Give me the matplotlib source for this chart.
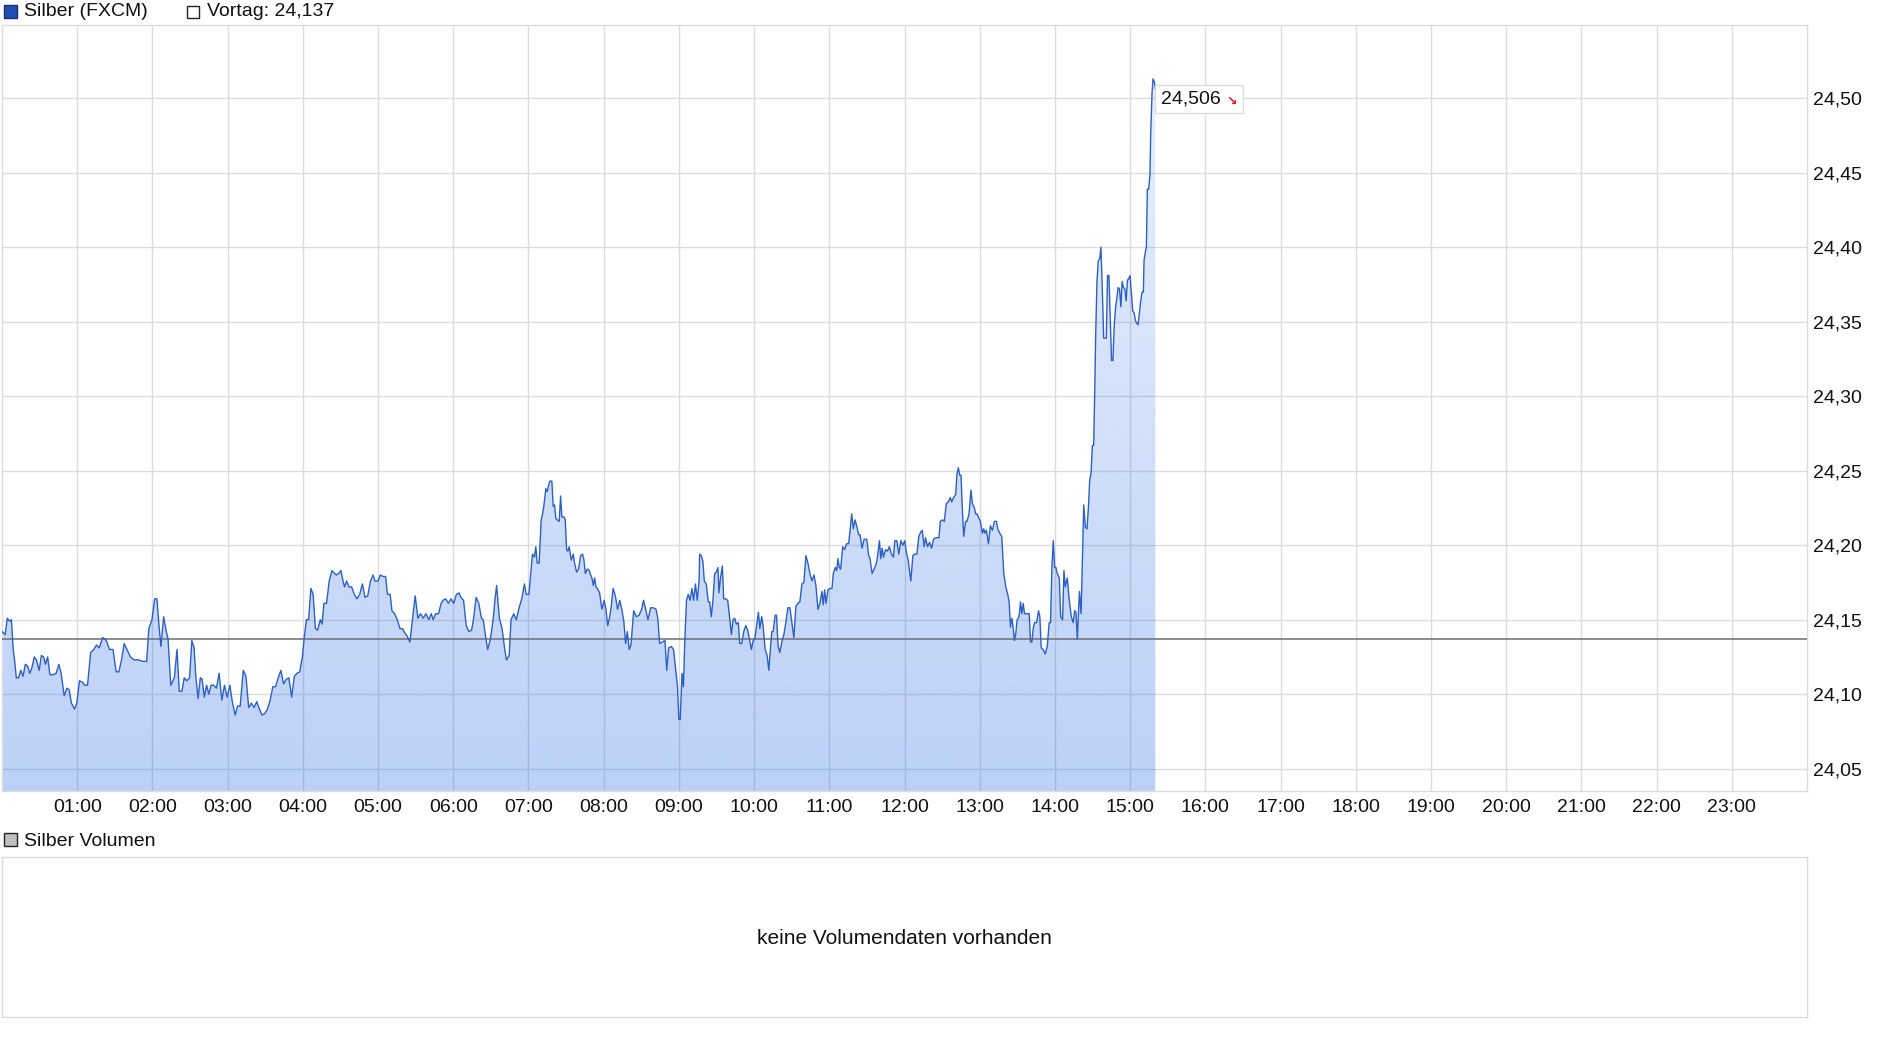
import numpy as np
import matplotlib
matplotlib.use("Agg")
import matplotlib.pyplot as plt
from matplotlib.patches import Rectangle
from matplotlib.ticker import FuncFormatter
from matplotlib.offsetbox import TextArea, HPacker, AnnotationBbox

plt.rcParams['font.family'] = ['Liberation Sans', 'DejaVu Sans']

# Uhrzeit in Stunden (Intraday) und Silberkurs
zeit = [
    0.000, 0.042, 0.071, 0.101, 0.125, 0.149, 0.167, 0.190, 0.220, 0.250, 0.280, 0.310, 0.339, 0.369, 0.399,
    0.429, 0.458, 0.494, 0.524, 0.554, 0.577, 0.607, 0.637, 0.673, 0.720, 0.756, 0.786, 0.827, 0.863, 0.893,
    0.923, 0.964, 0.994, 1.030, 1.071, 1.101, 1.137, 1.179, 1.220, 1.256, 1.292, 1.339, 1.387, 1.429, 1.476,
    1.518, 1.554, 1.589, 1.625, 1.661, 1.708, 1.756, 1.815, 1.875, 1.923, 1.952, 1.994, 2.030, 2.060, 2.089,
    2.113, 2.149, 2.185, 2.208, 2.244, 2.292, 2.327, 2.357, 2.393, 2.423, 2.458, 2.494, 2.524, 2.554, 2.577,
    2.607, 2.637, 2.661, 2.690, 2.720, 2.750, 2.780, 2.815, 2.851, 2.887, 2.923, 2.958, 2.994, 3.030, 3.065,
    3.101, 3.131, 3.167, 3.208, 3.244, 3.280, 3.315, 3.351, 3.387, 3.423, 3.458, 3.494, 3.530, 3.565, 3.601,
    3.637, 3.673, 3.708, 3.744, 3.780, 3.815, 3.851, 3.887, 3.923, 3.958, 3.994, 4.018, 4.048, 4.077, 4.107,
    4.137, 4.167, 4.196, 4.232, 4.256, 4.280, 4.315, 4.351, 4.387, 4.423, 4.446, 4.476, 4.506, 4.530, 4.554,
    4.583, 4.613, 4.649, 4.685, 4.720, 4.756, 4.792, 4.827, 4.863, 4.899, 4.935, 4.958, 5.000, 5.030, 5.065,
    5.101, 5.125, 5.161, 5.185, 5.220, 5.256, 5.292, 5.327, 5.357, 5.387, 5.423, 5.458, 5.494, 5.530, 5.565,
    5.601, 5.637, 5.673, 5.708, 5.732, 5.768, 5.804, 5.839, 5.863, 5.899, 5.935, 5.970, 6.006, 6.042, 6.077,
    6.101, 6.137, 6.173, 6.208, 6.244, 6.268, 6.304, 6.339, 6.375, 6.399, 6.435, 6.458, 6.494, 6.530, 6.554,
    6.577, 6.613, 6.649, 6.685, 6.708, 6.744, 6.768, 6.804, 6.839, 6.875, 6.911, 6.946, 6.970, 7.006,
    7.053, 7.080, 7.098, 7.116, 7.142, 7.169, 7.187, 7.204, 7.231, 7.249, 7.267, 7.284, 7.311, 7.329, 7.347,
    7.364, 7.382, 7.409, 7.427, 7.444, 7.471, 7.489, 7.507, 7.524, 7.542, 7.569, 7.596, 7.613, 7.640, 7.667,
    7.693, 7.720, 7.738, 7.756, 7.782, 7.809, 7.827, 7.844, 7.862, 7.880, 7.898, 7.916,
    7.946, 7.976, 8.006, 8.030, 8.054, 8.077, 8.101, 8.125, 8.155, 8.185, 8.214, 8.244, 8.268, 8.292, 8.315,
    8.339, 8.363, 8.399, 8.435, 8.470, 8.506, 8.530, 8.554, 8.589, 8.625, 8.661, 8.696, 8.720, 8.744, 8.780,
    8.815, 8.839, 8.863, 8.899, 8.929, 8.958, 8.982, 9.000, 9.018, 9.042, 9.060, 9.077, 9.101, 9.125, 9.149,
    9.173, 9.196, 9.220, 9.244, 9.268,
    9.276, 9.298, 9.320, 9.338, 9.364, 9.391, 9.409, 9.431, 9.453, 9.476, 9.498, 9.520, 9.533, 9.551, 9.578,
    9.596, 9.622, 9.649, 9.676, 9.698, 9.720, 9.742, 9.764, 9.791, 9.809, 9.836, 9.862, 9.889, 9.916, 9.942,
    9.964, 9.987, 10.009, 10.031, 10.058, 10.076, 10.102, 10.120, 10.147, 10.173, 10.196, 10.218, 10.236,
    10.253, 10.280, 10.298, 10.320, 10.342, 10.369, 10.396, 10.422, 10.449, 10.476, 10.502, 10.529, 10.556,
    10.582, 10.609, 10.636, 10.662, 10.689, 10.716, 10.742, 10.769, 10.796, 10.822, 10.849, 10.876, 10.902,
    10.920, 10.938, 10.956, 10.982, 11.009, 11.036, 11.053, 11.080, 11.098, 11.116, 11.133, 11.151, 11.178,
    11.204, 11.231, 11.258, 11.276, 11.298, 11.320, 11.342, 11.364, 11.391, 11.409, 11.436, 11.462, 11.498,
    11.524, 11.542, 11.569, 11.596, 11.622, 11.640, 11.667, 11.684, 11.702, 11.720, 11.747, 11.773, 11.800,
    11.827, 11.853, 11.871, 11.898, 11.924, 11.951, 11.978, 12.004, 12.022, 12.049, 12.084, 12.111, 12.138,
    12.164, 12.191, 12.218, 12.236, 12.262, 12.280, 12.307, 12.333, 12.360, 12.387, 12.413, 12.440, 12.458,
    12.476, 12.502, 12.529, 12.556, 12.582, 12.609, 12.627, 12.653, 12.680, 12.698, 12.716, 12.733, 12.751,
    12.769, 12.787, 12.813, 12.831, 12.858, 12.884, 12.902, 12.929, 12.947, 12.964, 12.991, 13.009, 13.036,
    13.053, 13.071, 13.089, 13.116, 13.142, 13.169, 13.196, 13.222, 13.240, 13.267, 13.293, 13.320, 13.347,
    13.373, 13.391, 13.409, 13.427, 13.444, 13.462, 13.480, 13.498, 13.524, 13.542, 13.560, 13.578, 13.596,
    13.622, 13.658, 13.676, 13.693, 13.711, 13.729, 13.756, 13.782, 13.800, 13.818, 13.844, 13.871, 13.898,
    13.924, 13.942, 13.960, 13.978, 13.996, 14.013, 14.031, 14.058, 14.076, 14.102, 14.120, 14.138, 14.164,
    14.191, 14.218, 14.244, 14.262, 14.280, 14.298,
    14.326, 14.348, 14.366, 14.383, 14.405, 14.427, 14.445, 14.463, 14.480, 14.498, 14.515, 14.529, 14.542,
    14.559, 14.577, 14.595, 14.612, 14.630, 14.648, 14.665, 14.683, 14.700, 14.718, 14.736, 14.753, 14.771,
    14.789, 14.806, 14.824, 14.841, 14.859, 14.877, 14.894, 14.912, 14.930, 14.947, 14.965, 14.982, 15.000,
    15.018, 15.035, 15.053, 15.070, 15.088, 15.106, 15.123, 15.141, 15.159, 15.176, 15.185, 15.203, 15.216,
    15.229, 15.247, 15.264, 15.273, 15.291, 15.304, 15.322, 15.335,
]

kurs = [
    24.142, 24.140, 24.151, 24.149, 24.150, 24.130, 24.123, 24.111, 24.111, 24.116, 24.112, 24.120, 24.119, 24.114, 24.118,
    24.125, 24.123, 24.116, 24.126, 24.125, 24.120, 24.125, 24.113, 24.113, 24.114, 24.120, 24.114, 24.099, 24.104, 24.103,
    24.094, 24.090, 24.094, 24.109, 24.108, 24.106, 24.106, 24.128, 24.130, 24.133, 24.131, 24.138, 24.136, 24.130, 24.130,
    24.115, 24.115, 24.123, 24.134, 24.130, 24.125, 24.123, 24.123, 24.122, 24.122, 24.144, 24.150, 24.164, 24.164, 24.145,
    24.132, 24.152, 24.142, 24.137, 24.106, 24.111, 24.130, 24.102, 24.102, 24.111, 24.109, 24.111, 24.136, 24.131, 24.112,
    24.097, 24.111, 24.110, 24.098, 24.106, 24.100, 24.106, 24.106, 24.104, 24.114, 24.096, 24.106, 24.098, 24.106, 24.094,
    24.086, 24.092, 24.092, 24.116, 24.112, 24.091, 24.094, 24.091, 24.095, 24.090, 24.086, 24.087, 24.090, 24.096, 24.105,
    24.105, 24.111, 24.116, 24.107, 24.110, 24.111, 24.098, 24.112, 24.114, 24.115, 24.125, 24.138, 24.150, 24.150, 24.171,
    24.167, 24.144, 24.143, 24.150, 24.147, 24.161, 24.161, 24.176, 24.183, 24.181, 24.180, 24.181, 24.183, 24.177, 24.172,
    24.176, 24.172, 24.172, 24.167, 24.164, 24.167, 24.174, 24.165, 24.166, 24.176, 24.180, 24.176, 24.176, 24.180, 24.179,
    24.179, 24.167, 24.167, 24.156, 24.154, 24.150, 24.144, 24.144, 24.141, 24.139, 24.135, 24.150, 24.166, 24.151, 24.154,
    24.151, 24.154, 24.150, 24.154, 24.150, 24.154, 24.154, 24.161, 24.163, 24.164, 24.161, 24.164, 24.161, 24.167, 24.168,
    24.165, 24.163, 24.146, 24.142, 24.143, 24.150, 24.165, 24.161, 24.151, 24.150, 24.137, 24.130, 24.137, 24.150, 24.163,
    24.173, 24.151, 24.144, 24.130, 24.123, 24.126, 24.150, 24.154, 24.150, 24.158, 24.164, 24.174, 24.167, 24.167,
    24.194, 24.192, 24.199, 24.188, 24.188, 24.217, 24.221, 24.226, 24.238, 24.236, 24.240, 24.243, 24.243, 24.226, 24.227,
    24.218, 24.217, 24.216, 24.233, 24.219, 24.219, 24.217, 24.197, 24.196, 24.199, 24.190, 24.194, 24.188, 24.182, 24.184,
    24.193, 24.194, 24.190, 24.181, 24.184, 24.183, 24.180, 24.178, 24.173, 24.178, 24.172, 24.171,
    24.168, 24.157, 24.163, 24.157, 24.146, 24.151, 24.159, 24.171, 24.166, 24.157, 24.163, 24.156, 24.149, 24.134, 24.142,
    24.130, 24.133, 24.156, 24.152, 24.153, 24.157, 24.163, 24.158, 24.150, 24.158, 24.158, 24.157, 24.151, 24.134, 24.135,
    24.136, 24.116, 24.131, 24.132, 24.130, 24.116, 24.105, 24.083, 24.083, 24.114, 24.105, 24.133, 24.163, 24.167, 24.163,
    24.171, 24.163, 24.174, 24.163, 24.176,
    24.194, 24.193, 24.189, 24.176, 24.174, 24.162, 24.162, 24.152, 24.163, 24.181, 24.182, 24.185, 24.168, 24.177, 24.186,
    24.164, 24.164, 24.163, 24.151, 24.140, 24.150, 24.151, 24.147, 24.148, 24.134, 24.134, 24.142, 24.146, 24.143, 24.136,
    24.130, 24.136, 24.137, 24.145, 24.155, 24.144, 24.152, 24.146, 24.130, 24.126, 24.116, 24.131, 24.142,
    24.142, 24.153, 24.153, 24.132, 24.128, 24.135, 24.140, 24.148, 24.158, 24.158, 24.148, 24.138, 24.159,
    24.161, 24.162, 24.174, 24.175, 24.193, 24.188, 24.181, 24.176, 24.180, 24.173, 24.157, 24.161, 24.169,
    24.160, 24.170, 24.161, 24.170, 24.171, 24.171, 24.181, 24.185, 24.183, 24.191, 24.185, 24.184, 24.199,
    24.197, 24.201, 24.201, 24.210, 24.221, 24.211, 24.217, 24.213, 24.207, 24.207, 24.198, 24.204, 24.204,
    24.193, 24.191, 24.181, 24.184, 24.187, 24.192, 24.203, 24.191, 24.198, 24.192, 24.197, 24.196, 24.199,
    24.194, 24.192, 24.203, 24.203, 24.194, 24.203, 24.200, 24.203, 24.196, 24.190, 24.176, 24.193, 24.194,
    24.194, 24.206, 24.209, 24.210, 24.199, 24.205, 24.199, 24.202, 24.198, 24.204, 24.205, 24.205, 24.205,
    24.216, 24.217, 24.216, 24.228, 24.229, 24.232, 24.229, 24.232, 24.234, 24.248, 24.252, 24.247, 24.247,
    24.225, 24.206, 24.216, 24.216, 24.221, 24.237, 24.228, 24.225, 24.221, 24.221, 24.218, 24.216, 24.208,
    24.211, 24.208, 24.210, 24.201, 24.213, 24.210, 24.216, 24.216, 24.211, 24.208, 24.206, 24.181, 24.172,
    24.167, 24.162, 24.145, 24.151, 24.145, 24.136, 24.141, 24.150, 24.152, 24.162, 24.154, 24.161, 24.154,
    24.154, 24.154, 24.135, 24.135, 24.144, 24.148, 24.148, 24.156, 24.152, 24.131, 24.130, 24.127, 24.132,
    24.148, 24.148, 24.185, 24.203, 24.185, 24.185, 24.181, 24.178, 24.152, 24.150, 24.183, 24.172, 24.178,
    24.163, 24.152, 24.148, 24.156, 24.155, 24.137,
    24.169, 24.154, 24.191, 24.227, 24.212, 24.211, 24.225, 24.244, 24.248, 24.267, 24.267, 24.302, 24.341,
    24.377, 24.391, 24.392, 24.400, 24.372, 24.339, 24.339, 24.339, 24.381, 24.381, 24.351, 24.324, 24.324,
    24.348, 24.359, 24.366, 24.373, 24.372, 24.360, 24.377, 24.373, 24.372, 24.364, 24.378, 24.379, 24.381,
    24.368, 24.357, 24.356, 24.351, 24.349, 24.348, 24.356, 24.364, 24.370, 24.370, 24.391, 24.397, 24.400,
    24.439, 24.439, 24.449, 24.475, 24.503, 24.513, 24.511, 24.506,
]

vortag = 24.137
letzter_kurs = "24,506"
y_ticks = [24.05, 24.10, 24.15, 24.20, 24.25, 24.30, 24.35, 24.40, 24.45, 24.50]
x_ticks = list(range(1, 24))
x_labels = ["%02d:00" % h for h in x_ticks]

assert len(zeit) == len(kurs), (len(zeit), len(kurs))

W, H = 1880, 1037
fig = plt.figure(figsize=(W / 100, H / 100), dpi=100)
fig.patch.set_facecolor("white")

grid_col = "#dcdcdc"
y_lo, y_hi = 24.035, 24.5492

# Kurs-Chart
ax = fig.add_axes([2 / W, 1 - 791 / H, 1805 / W, 766 / H])
ax.set_facecolor("white")

# Verlauf der Flaeche: gleiche Farbe, Deckkraft nimmt nach oben ab
n = 256
rgba = np.zeros((n, 1, 4))
rgba[..., 0] = 30 / 255
rgba[..., 1] = 100 / 255
rgba[..., 2] = 230 / 255
rgba[..., 3] = np.linspace(0.30, 0.09, n).reshape(-1, 1)
im = ax.imshow(rgba, extent=[0, 24, y_lo, y_hi], origin="lower", aspect="auto", zorder=2)
poly = ax.fill_between(zeit, kurs, y_lo, facecolor="none", edgecolor="none")
im.set_clip_path(poly.get_paths()[0], transform=ax.transData)

ax.axhline(vortag, color="#6e6e6e", lw=1.1, zorder=3)
ax.plot(zeit, kurs, color="#2c60c6", lw=1.0, zorder=4)

ax.set_xlim(0, 24)
ax.set_ylim(y_lo, y_hi)
ax.set_xticks(x_ticks)
ax.set_xticklabels(x_labels)
ax.set_yticks(y_ticks)
ax.yaxis.set_major_formatter(FuncFormatter(lambda v, p: ("%.2f" % v).replace(".", ",")))
ax.yaxis.tick_right()
ax.tick_params(axis="both", length=0, labelsize=14, colors="#111111")
ax.tick_params(axis="x", pad=6)
ax.tick_params(axis="y", pad=4)
ax.grid(True, color=grid_col, lw=1.0, zorder=0)
ax.set_axisbelow(True)
for s in ax.spines.values():
    s.set_color(grid_col)
    s.set_linewidth(1.0)

# Schild mit letztem Kurs
ta = TextArea(letzter_kurs, textprops=dict(fontsize=14, color="#111111"))
tb = TextArea("\u2198", textprops=dict(fontsize=9, color="#e8141a", family=["DejaVu Sans"], fontweight="bold"))
pack = HPacker(children=[ta, tb], sep=4, pad=0, align="bottom")
ab = AnnotationBbox(pack, (zeit[-1], kurs[-1]), xybox=(4, -7), xycoords="data",
                    boxcoords="offset points", box_alignment=(0, 0.5), frameon=True, pad=0.42,
                    bboxprops=dict(edgecolor=grid_col, facecolor="white", lw=1.0))
ax.add_artist(ab)
ab.set_zorder(5)

# Legende oben
fig.patches.append(Rectangle((4 / W, 1 - 18 / H), 13 / W, 13 / H, transform=fig.transFigure,
                             facecolor="#1f4fb5", edgecolor="#1a2f66", lw=1.0))
fig.text(24 / W, 1 - 12 / H, "Silber (FXCM)", fontsize=14, va="center", ha="left", color="#111111")
fig.patches.append(Rectangle((187 / W, 1 - 18 / H), 12 / W, 12 / H, transform=fig.transFigure,
                             facecolor="white", edgecolor="#222222", lw=1.0))
fig.text(207 / W, 1 - 12 / H, "Vortag: 24,137", fontsize=14, va="center", ha="left", color="#111111")

# Volumen-Panel
fig.patches.append(Rectangle((4 / W, 1 - 846 / H), 13 / W, 13 / H, transform=fig.transFigure,
                             facecolor="#c0c0c0", edgecolor="#222222", lw=1.0))
fig.text(24 / W, 1 - 841 / H, "Silber Volumen", fontsize=14, va="center", ha="left", color="#111111")

ax2 = fig.add_axes([2 / W, 1 - 1017 / H, 1805 / W, 160 / H])
ax2.set_xticks([])
ax2.set_yticks([])
for s in ax2.spines.values():
    s.set_color(grid_col)
    s.set_linewidth(1.0)
ax2.text(0.5, 0.49, "keine Volumendaten vorhanden", transform=ax2.transAxes,
         ha="center", va="center", fontsize=15, color="#111111")

fig.savefig("out.png", dpi=100, facecolor="white")
